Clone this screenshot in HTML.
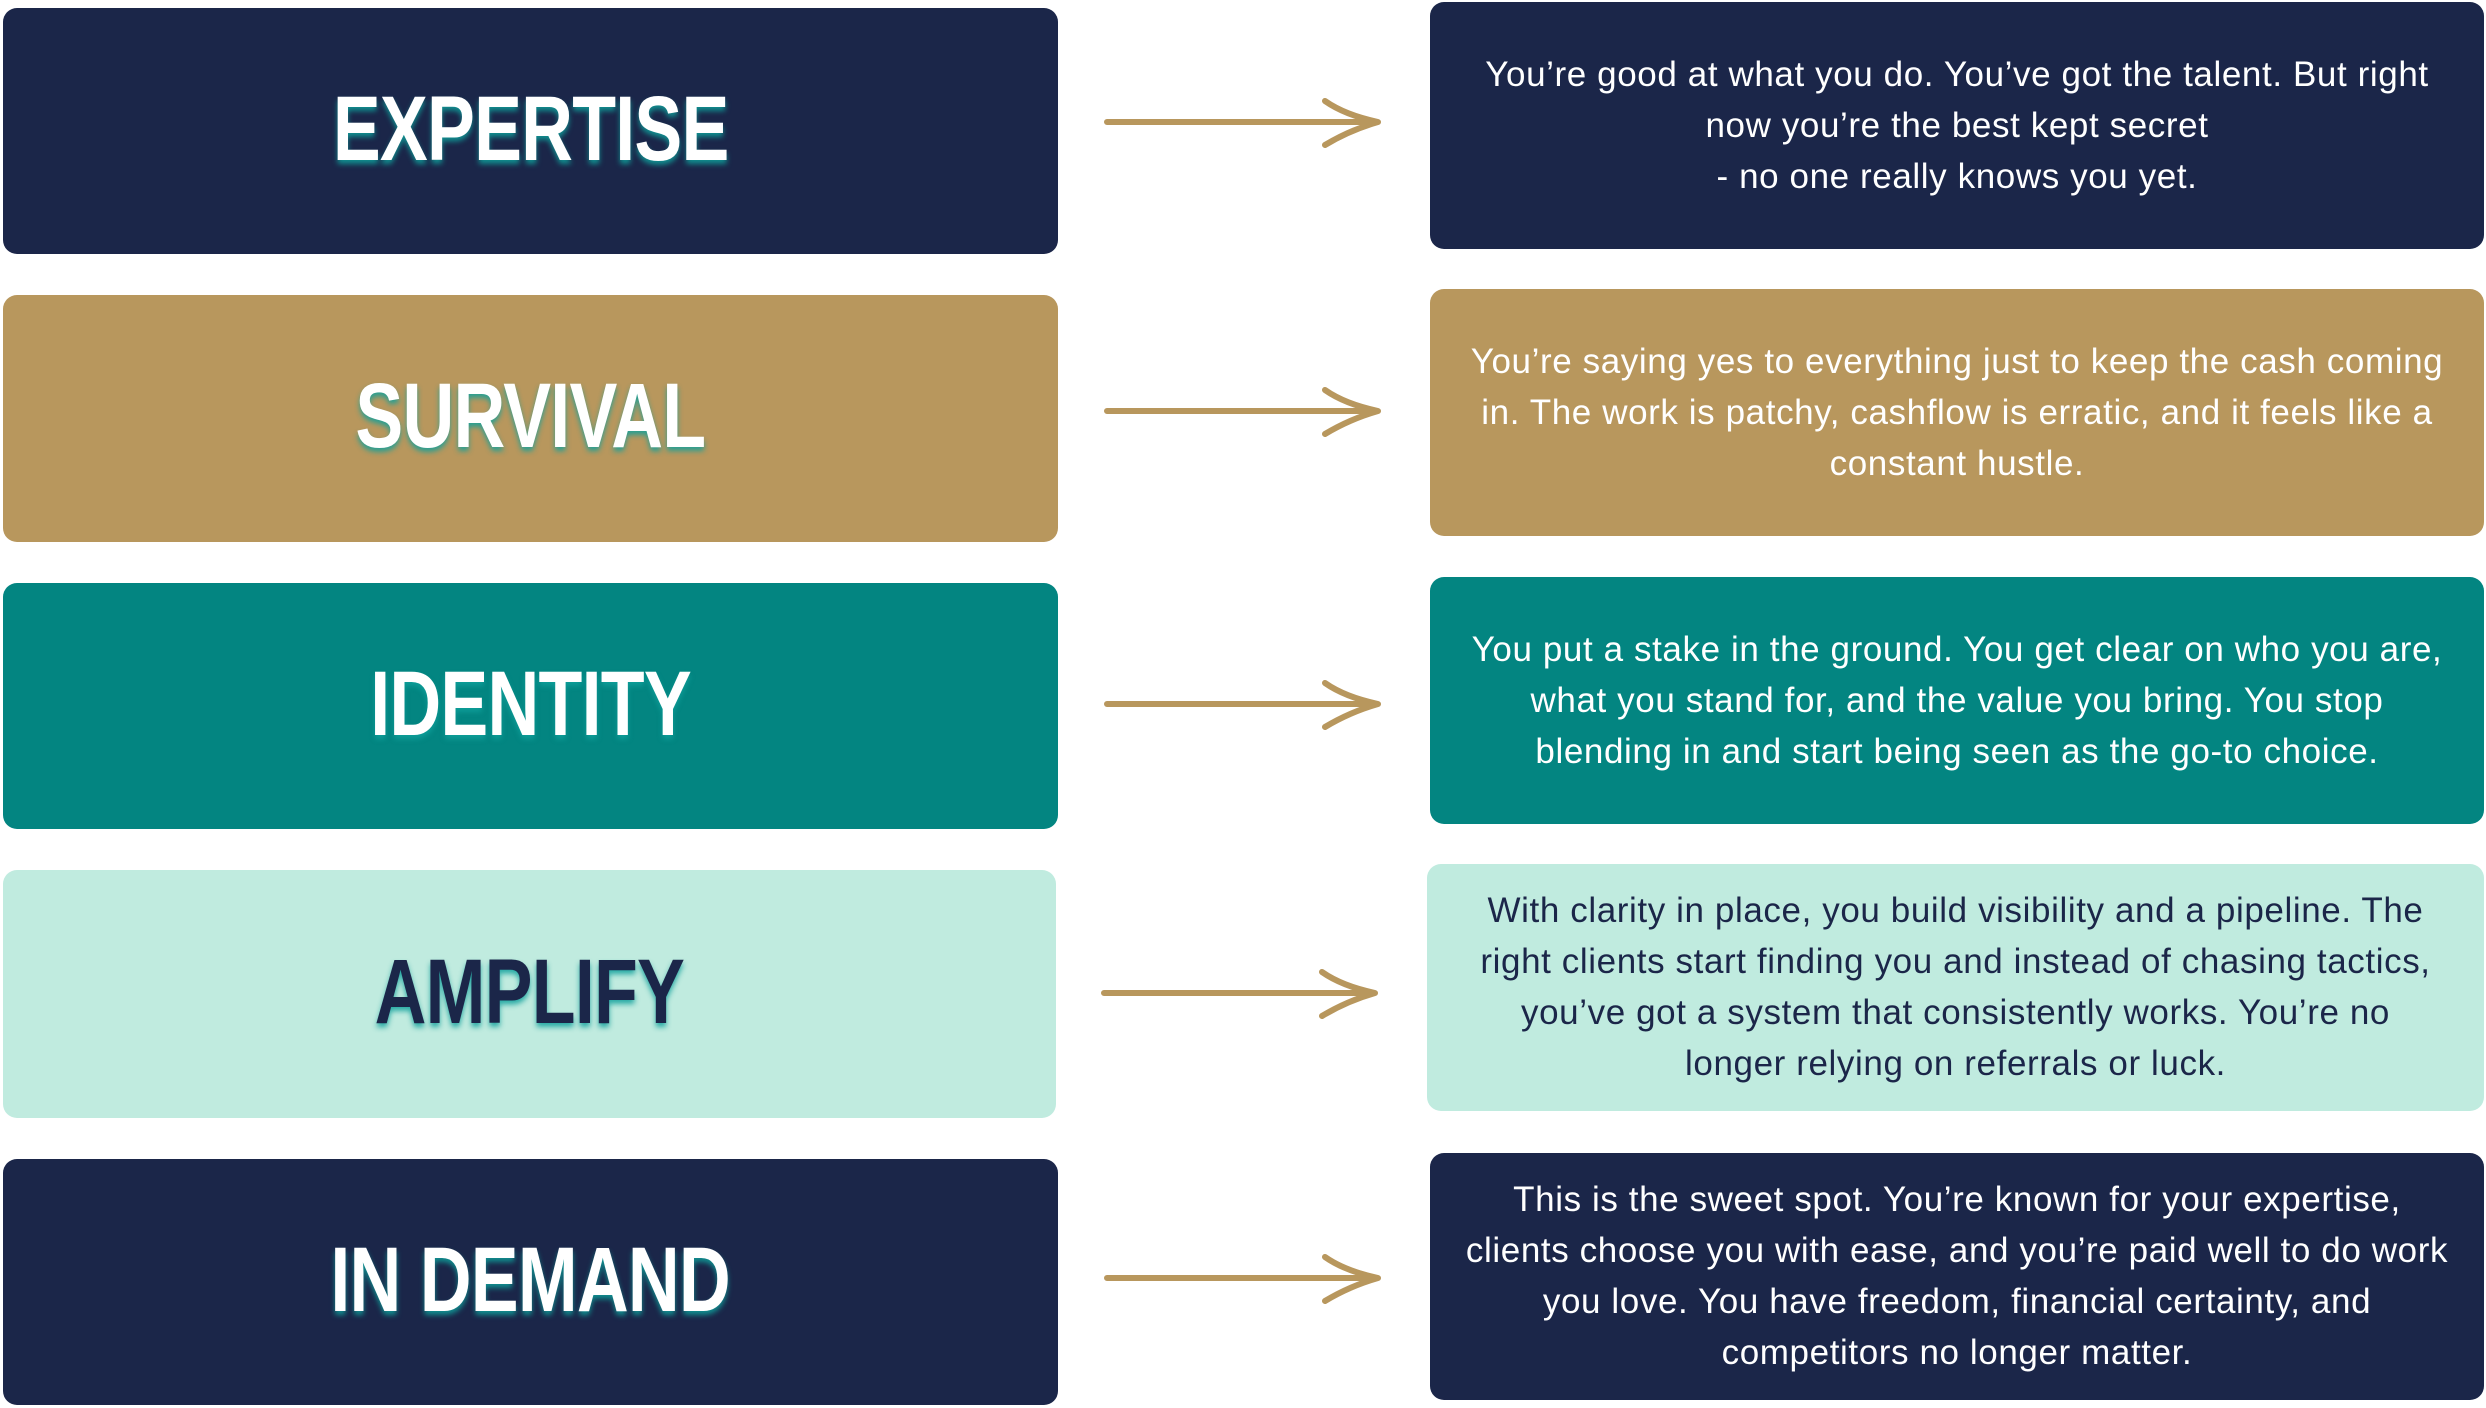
<!DOCTYPE html>
<html><head><meta charset="utf-8"><style>
html,body{margin:0;padding:0;background:#fff;width:2486px;height:1408px;overflow:hidden;position:relative}
.b{position:absolute;border-radius:14px;display:flex;align-items:center;justify-content:center;text-align:center}
.t{font-family:"Liberation Sans",sans-serif;font-weight:bold;font-size:92px;color:#fff;transform:scaleX(0.78);letter-spacing:-1px;text-shadow:0 4px 6px rgba(15,160,155,.85);margin-top:-4px}
.d{font-family:"Liberation Sans",sans-serif;font-size:35px;line-height:51px;color:#fff;letter-spacing:0.6px;margin-top:-1px}
.navy{background:#1b2649}.gold{background:#b8975d}.teal{background:#038581}.mint{background:#c0ebdf}
svg{position:absolute;left:0;top:0}
</style></head><body>
<div class="b navy" style="left:3px;top:8px;width:1055px;height:246px"><div class="t">EXPERTISE</div></div>
<div class="b gold" style="left:3px;top:295px;width:1055px;height:247px"><div class="t">SURVIVAL</div></div>
<div class="b teal" style="left:3px;top:583px;width:1055px;height:246px"><div class="t">IDENTITY</div></div>
<div class="b mint" style="left:3px;top:870px;width:1053px;height:248px"><div class="t" style="color:#1b2649">AMPLIFY</div></div>
<div class="b navy" style="left:3px;top:1159px;width:1055px;height:246px"><div class="t">IN DEMAND</div></div>

<div class="b navy" style="left:1430px;top:2px;width:1054px;height:247px"><div class="d">You’re good at what you do. You’ve got the talent. But right<br>now you’re the best kept secret<br>- no one really knows you yet.</div></div>
<div class="b gold" style="left:1430px;top:289px;width:1054px;height:247px"><div class="d">You’re saying yes to everything just to keep the cash coming<br>in. The work is patchy, cashflow is erratic, and it feels like a<br>constant hustle.</div></div>
<div class="b teal" style="left:1430px;top:577px;width:1054px;height:247px"><div class="d">You put a stake in the ground. You get clear on who you are,<br>what you stand for, and the value you bring. You stop<br>blending in and start being seen as the go-to choice.</div></div>
<div class="b mint" style="left:1427px;top:864px;width:1057px;height:247px"><div class="d" style="color:#1b2649">With clarity in place, you build visibility and a pipeline. The<br>right clients start finding you and instead of chasing tactics,<br>you’ve got a system that consistently works. You’re no<br>longer relying on referrals or luck.</div></div>
<div class="b navy" style="left:1430px;top:1153px;width:1054px;height:247px"><div class="d">This is the sweet spot. You’re known for your expertise,<br>clients choose you with ease, and you’re paid well to do work<br>you love. You have freedom, financial certainty, and<br>competitors no longer matter.</div></div>

<svg width="2486" height="1408" fill="none" stroke="#b8975d" stroke-width="6" stroke-linecap="round" stroke-linejoin="round">
<g><path d="M1107 122 H1375 M1325 101 Q1345 115 1378 122 Q1350 130 1325 145"/></g>
<g transform="translate(0,289)"><path d="M1107 122 H1375 M1325 101 Q1345 115 1378 122 Q1350 130 1325 145"/></g>
<g transform="translate(0,582)"><path d="M1107 122 H1375 M1325 101 Q1345 115 1378 122 Q1350 130 1325 145"/></g>
<g transform="translate(-3,871)"><path d="M1107 122 H1375 M1325 101 Q1345 115 1378 122 Q1350 130 1325 145"/></g>
<g transform="translate(0,1156)"><path d="M1107 122 H1375 M1325 101 Q1345 115 1378 122 Q1350 130 1325 145"/></g>
</svg>
</body></html>
